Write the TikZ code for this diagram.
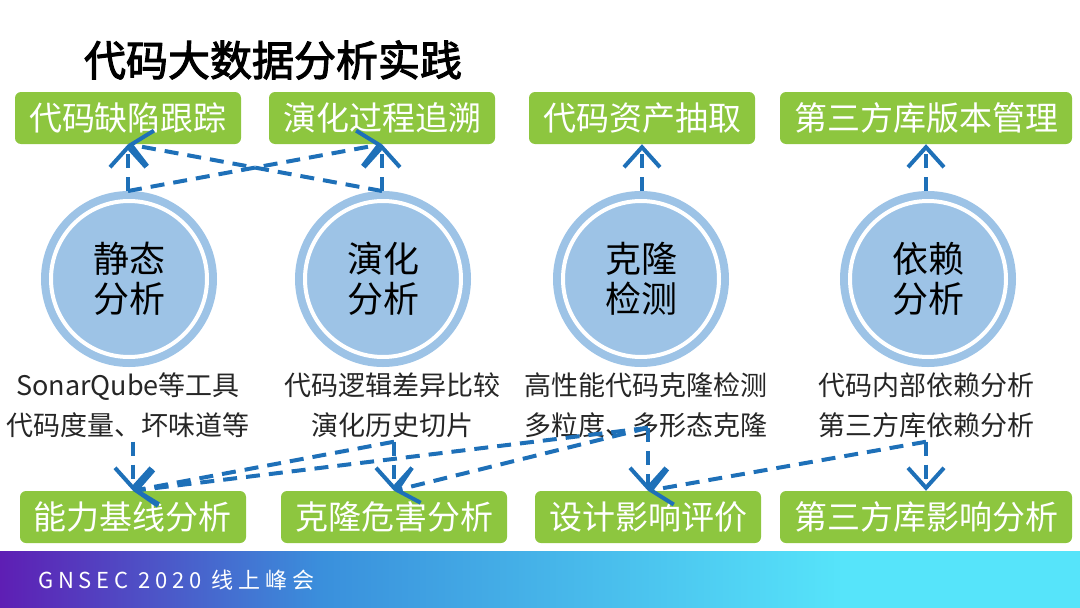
\documentclass[tikz,border=0pt]{standalone}
\usepackage{fontspec}
\setmainfont{Noto Sans CJK SC}
\newfontfamily\titlefont{Noto Sans CJK SC}[FakeBold=2.5]
\usetikzlibrary{arrows.meta}
\definecolor{cgreen}{RGB}{141,198,63}
\definecolor{cring}{RGB}{157,195,230}
\definecolor{carrow}{RGB}{30,112,184}
\definecolor{ctext}{RGB}{38,38,38}
\definecolor{fpurple}{RGB}{94,30,180}
\definecolor{fblue}{RGB}{58,144,220}
\definecolor{fcyan}{RGB}{86,228,250}
\pgfdeclarehorizontalshading{footband}{100bp}{color(0bp)=(fpurple); color(25bp)=(fpurple); color(40bp)=(fblue); color(64bp)=(fcyan); color(100bp)=(fcyan)}
\tikzset{slide/.style={x=1pt,y=-1pt},
  greenbox/.style={fill=cgreen,rounded corners=6pt,text=white,minimum height=52pt,inner xsep=14pt,
    font=\fontsize{33}{40}\selectfont},
  topic/.style={circle,fill=cring,draw=cring,line width=8pt,double=white,double distance=4pt,
    minimum size=156pt,inner sep=0pt,outer sep=10pt,align=center,text=black,font=\fontsize{36}{40}\selectfont},
  desc/.style={align=center,text=ctext,inner sep=4pt,font=\fontsize{27}{40}\selectfont},
  flow/.style={carrow,line width=4pt,dash pattern=on 14pt off 9pt,-{Straight Barb[length=20pt,width=36pt]}}}

\begin{document}
\begin{tikzpicture}[slide]
    \useasboundingbox (0,0) rectangle (1080,608);
    \fill[shading=footband] (0,551) rectangle (1080,608);
    \node[anchor=west,text=white,inner sep=0pt,font=\fontsize{22}{26}\selectfont\addfontfeatures{LetterSpace=22}] (foot) at (38,580) {GNSEC 2020 线上峰会};
    \node[font=\titlefont\fontsize{42}{50}\selectfont] (title) at (273,60) {代码大数据分析实践};
    % goals
    \node[greenbox] (b1) at (128,118) {代码缺陷跟踪};
    \node[greenbox] (b2) at (382,118) {演化过程追溯};
    \node[greenbox] (b3) at (642,118) {代码资产抽取};
    \node[greenbox] (b4) at (926,118) {第三方库版本管理};
    % analyses
    \node[topic] (c1) at (129,279) {静态\\分析};
    \node[topic] (c2) at (383,279) {演化\\分析};
    \node[topic] (c3) at (641,279) {克隆\\检测};
    \node[topic] (c4) at (928,279) {依赖\\分析};
    \node[desc] (d1) at (128,405) {SonarQube等工具\\代码度量、坏味道等};
    \node[desc] (d2) at (392,405) {代码逻辑差异比较\\演化历史切片};
    \node[desc] (d3) at (646,405) {高性能代码克隆检测\\多粒度、多形态克隆};
    \node[desc] (d4) at (926,405) {代码内部依赖分析\\第三方库依赖分析};
    % applications
    \node[greenbox] (b5) at (133,517) {能力基线分析};
    \node[greenbox] (b6) at (394,517) {克隆危害分析};
    \node[greenbox] (b7) at (648,517) {设计影响评价};
    \node[greenbox] (b8) at (926,517) {第三方库影响分析};
    \coordinate (k3) at ([yshift=14pt]b7.north |- d3.south);
    % upward links
    \draw[flow] (b1.south |- c1.north) -- (b1.south);
    \draw[flow] (b1.south |- c1.north) -- (b2.south);
    \draw[flow] (b2.south |- c2.north) -- (b2.south);
    \draw[flow] (b2.south |- c2.north) -- (b1.south);
    \draw[flow] (b3.south |- c3.north) -- (b3.south);
    \draw[flow] (b4.south |- c4.north) -- (b4.south);
    % downward links
    \draw[flow] (b5.north |- d1.south) -- (b5.north);
    \draw[flow] (b6.north |- d2.south) -- (b6.north);
    \draw[flow] (b6.north |- d2.south) -- (b5.north);
    \draw[flow] (k3) -- (b7.north);
    \draw[flow] (k3) -- (b6.north);
    \draw[flow] (k3) -- (b5.north);
    \draw[flow] (b8.north |- d4.south) -- (b8.north);
    \draw[flow] (b8.north |- d4.south) -- (b7.north);
\end{tikzpicture}
\end{document}
